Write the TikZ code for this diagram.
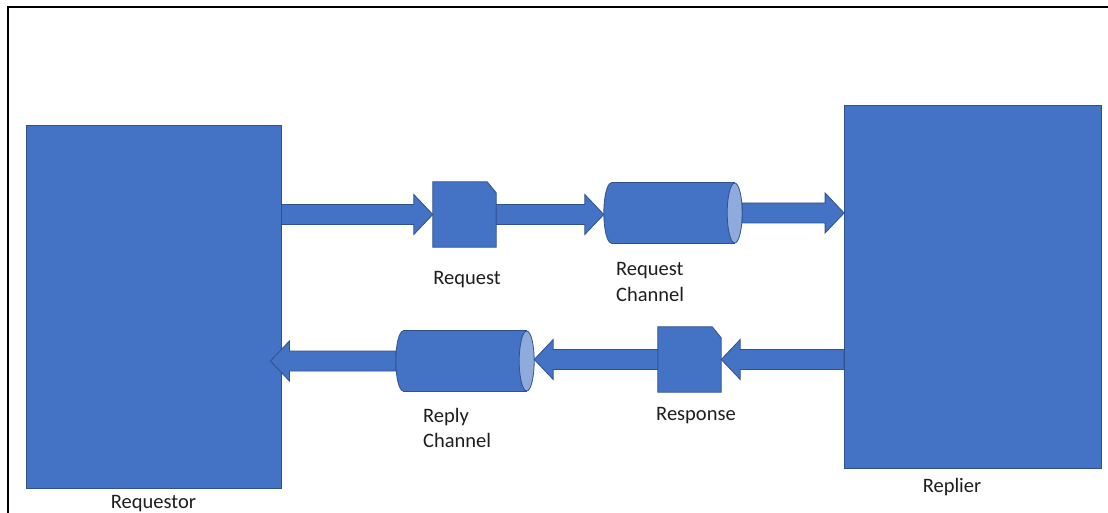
\documentclass[tikz,border=0pt]{standalone}
\usepackage{fontspec}
\setmainfont{Carlito}
\usetikzlibrary{calc}
\definecolor{fillblue}{HTML}{4472C4}
\definecolor{lineblue}{HTML}{2F528F}
\definecolor{endblue}{HTML}{8FAADC}
\definecolor{txt}{HTML}{1E1E1E}
\newcommand{\blockarrow}[2]{%
  \draw[barrow] let \p1=(#1), \p2=(#2), \n2={\x2-19*sign(\x2-\x1)} in
    (\x1,\y1+10pt) -- (\n2,\y1+10pt) -- (\n2,\y1+20pt) -- (\x2,\y1)
    -- (\n2,\y1-20pt) -- (\n2,\y1-10pt) -- (\x1,\y1-10pt) -- cycle;}
\newcommand{\docshape}[1]{%
  \filldraw[shapeline] (#1.north west) -- ([xshift=-9pt]#1.north east)
    -- ([yshift=-11pt]#1.north east) -- (#1.south east) -- (#1.south west) -- cycle;}
\newcommand{\chanshape}[1]{%
  \filldraw[shapeline] ([xshift=7.5pt]#1.west) ellipse [x radius=7.5, y radius=30];
  \fill[fillblue] ([xshift=7.5pt]#1.north west) rectangle ([xshift=-7.5pt]#1.south east);
  \draw[draw=lineblue, line width=0.8pt] ([xshift=7.5pt]#1.north west) -- ([xshift=-7.5pt]#1.north east)
    ([xshift=7.5pt]#1.south west) -- ([xshift=-7.5pt]#1.south east);
  \filldraw[shapeline, fill=endblue] ([xshift=-7.5pt]#1.east) ellipse [x radius=7.5, y radius=30];}
\begin{document}
\begin{tikzpicture}[x=1pt,y=-1pt,
  shapeline/.style={fill=fillblue, draw=lineblue, line width=0.8pt},
  box/.style={rectangle, shapeline, inner sep=0pt},
  doc/.style={rectangle, inner sep=0pt, minimum width=63pt, minimum height=65pt},
  chan/.style={rectangle, inner sep=0pt, minimum width=138pt, minimum height=60pt},
  lbl/.style={font=\fontsize{20.5}{25.5}\selectfont, text=txt, inner sep=0pt, align=left},
  barrow/.style={fill=fillblue, draw=lineblue, line width=0.8pt, line join=miter},
  frame/.style={draw=black, line width=2.2pt}]
\useasboundingbox (0,0) rectangle (1108,513);
\draw[frame] (8.3,513) -- (8.3,7) -- (1108,7);
% main boxes
\node[box, minimum width=255pt, minimum height=363pt] (req) at (153.5,306.5) {};
\node[box, minimum width=257pt, minimum height=363pt] (rep) at (973,286.5) {};
% request path
\node[doc] (rqdoc) at (464.5,214.5) {};
\node[chan] (rqch) at (673,213) {};
% reply path
\node[doc] (rsdoc) at (689.5,359.5) {};
\node[chan] (rpch) at (465,361) {};
\docshape{rqdoc}
\docshape{rsdoc}
\chanshape{rqch}
\chanshape{rpch}
\coordinate (reqin) at ([xshift=-11pt]req.east |- rpch.west);
% connectors
\blockarrow{req.east |- rqdoc.west}{rqdoc.west}
\blockarrow{rqdoc.east}{rqch.west}
\blockarrow{rqch.east}{rep.west |- rqch.east}
\blockarrow{rep.west |- rsdoc.east}{rsdoc.east}
\blockarrow{rsdoc.west}{rpch.east}
\blockarrow{rpch.west}{reqin}
% labels
\node[lbl, anchor=base] (lreq) at (467,284.3) {Request};
\node[lbl, anchor=base west] (lrqch) at (616,301) {Request\\Channel};
\node[lbl, anchor=base] (lres) at (696,420) {Response};
\node[lbl, anchor=base west] (lrpch) at (423,447.5) {Reply\\Channel};
\node[lbl, anchor=base] (lreqr) at (153.5,508) {Requestor};
\node[lbl, anchor=base] (lrep) at (952,492.7) {Replier};
\end{tikzpicture}
\end{document}
